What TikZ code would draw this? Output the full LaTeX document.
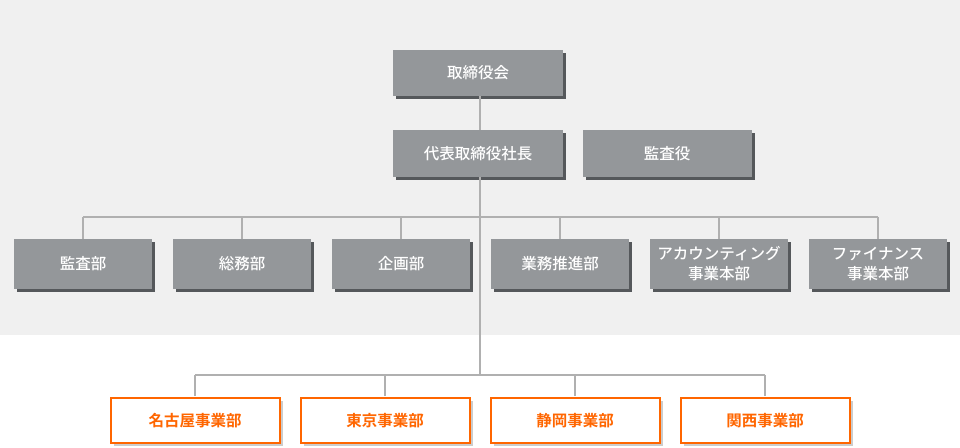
\documentclass[tikz,border=0pt]{standalone}
\usepackage{fontspec}
\newfontfamily\jp{Noto Sans CJK JP}[UprightFont={* Medium}, BoldFont={* Bold}]
\usetikzlibrary{shadows}
\definecolor{bggray}{HTML}{F0F0F0}
\definecolor{boxgray}{HTML}{94979A}
\definecolor{shadowgray}{HTML}{55585B}
\definecolor{linegray}{HTML}{B0B0B0}
\definecolor{orangec}{HTML}{FF6600}
\definecolor{lightshadow}{HTML}{CCCCCC}
\tikzset{
  graybox/.style={fill=boxgray, text=white, inner sep=0pt, font=\jp\fontsize{15.5}{20}\selectfont,
    align=center, drop shadow={shadow xshift=3pt, shadow yshift=-3pt, fill=shadowgray, opacity=1}},
  orangebox/.style={draw=orangec, line width=2pt, fill=white, text=orangec, inner sep=0pt,
    minimum width=169pt, minimum height=45pt, font=\jp\bfseries\fontsize{15.5}{20}\selectfont,
    drop shadow={shadow xshift=3pt, shadow yshift=-3pt, fill=lightshadow, opacity=1}},
  conn/.style={draw=linegray, line width=2pt}
}
\begin{document}
\begin{tikzpicture}[x=1pt,y=-1pt]
\useasboundingbox (0,0) rectangle (960,447);
\fill[white] (0,0) rectangle (960,447);
\fill[bggray] (0,0) rectangle (960,334.5);
% top nodes
\node[graybox, minimum width=170pt, minimum height=46pt] (board) at (478,73) {取締役会};
\node[graybox, minimum width=170pt, minimum height=47pt] (ceo) at (478,153.5) {代表取締役社長};
\node[graybox, minimum width=169pt, minimum height=47pt] (aud) at (667,153.5) {監査役};
% row 3
\foreach \n/\x/\t in {d1/83/監査部, d2/242/総務部, d3/401/企画部, d4/560/業務推進部,
  d5/719/{アカウンティング\\事業本部}, d6/878/{ファイナンス\\事業本部}}{
  \node[graybox, minimum width=138pt, minimum height=50pt] (\n) at (\x,264) {\t};
}
% row 4
\node[orangebox] (o1) at (195,420.5) {名古屋事業部};
\node[orangebox] (o2) at (385,420.5) {東京事業部};
\node[orangebox] (o3) at (575,420.5) {静岡事業部};
\node[orangebox] (o4) at (765,420.5) {関西事業部};
% connectors
\coordinate (tx) at (480,0);
\coordinate (bar1) at (0,217);
\coordinate (bar2) at (0,375);
\draw[conn] (board.south -| tx) -- (ceo.north -| tx);
\draw[conn] (ceo.south -| tx) -- (bar2 -| tx);
\draw[conn] (bar1 -| d1) -- (bar1 -| d6);
\foreach \n in {d1,d2,d3,d4,d5,d6}{ \draw[conn] (bar1 -| \n) -- (\n.north); }
\draw[conn] (bar2 -| o1) -- (bar2 -| o4);
\foreach \n in {o1,o2,o3,o4}{ \draw[conn] (bar2 -| \n) -- ([yshift=1pt]\n.north); }
\end{tikzpicture}
\end{document}
